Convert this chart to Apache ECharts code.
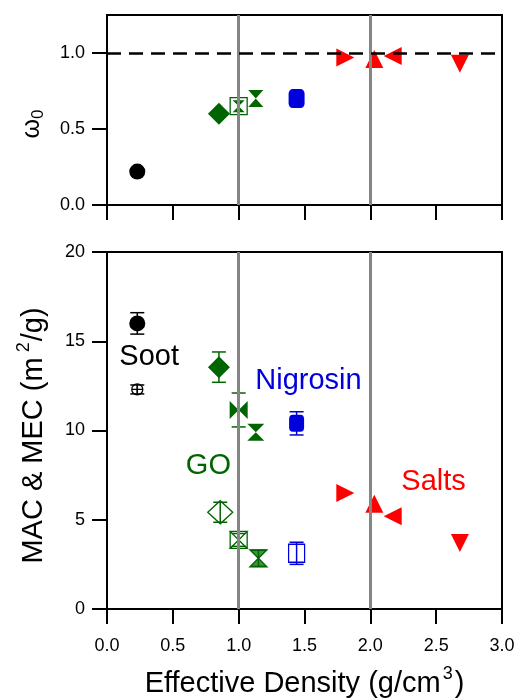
<!DOCTYPE html>
<html>
<head>
<meta charset="utf-8">
<script src="https://cdn.jsdelivr.net/npm/echarts@6/dist/echarts.min.js"></script>
<style>
  html, body { margin: 0; padding: 0; background: #fff; }
  #chart { width: 518px; height: 698px; }
</style>
</head>
<body>
<div id="chart"></div>
<script>
// tick values
const densityTicks = [0, 0.5, 1.0, 1.5, 2.0, 2.5, 3.0];
const ssaTicks = [0, 0.5, 1.0];
const macTicks = [0, 5, 10, 15, 20];

// single scattering albedo (top) and MAC (bottom, filled markers), same points
const density = [0.23, 0.85, 1.0, 1.13, 1.44, 1.81, 2.03, 2.17, 2.68];
const ssa = [0.22, 0.60, 0.65, 0.70, 0.70, 0.97, 0.96, 0.98, 0.93];
const mac = [16.0, 13.55, 11.15, 9.9, 10.4, 6.5, 5.9, 5.2, 3.7];
const macErr = [0.6, 0.85, 0.95, 0, 0.65, 0, 0, 0, 0];

// MEC (bottom, open markers)
const mecDensity = [0.23, 0.86, 1.0, 1.15, 1.44];
const mec = [12.3, 5.42, 3.87, 2.84, 3.12];
const mecErr = [0.25, 0.56, 0.36, 0.45, 0.62];

// group labels
const groupNames = ['Soot', 'Nigrosin', 'GO', 'Salts'];
const groupX = [0.32, 1.53, 0.77, 2.48];
const groupY = [14.1, 12.75, 8.0, 7.1];

const FONT = '"Liberation Sans", Arial, sans-serif';
const BLACK = '#000000', GREEN = '#006400', BLUE = '#0000dd', RED = '#ff0000';
const HOURGLASS = 'path://M0,0L10,0L0,10L10,10Z';
const BOWTIE = 'path://M0,0L0,10L10,0L10,10Z';
const BOXGLASS = 'path://M0,0L10,0L10,10L0,10ZM0,0L10,0L0,10L10,10Z';
const CIRCLEPLUS = 'path://M0,5A5,5,0,1,1,10,5A5,5,0,1,1,0,5ZM0,5L10,5M5,0L5,10';

const groupColors = [BLACK, BLUE, GREEN, RED];
const pointColors = [BLACK, GREEN, GREEN, GREEN, BLUE, RED, RED, RED, RED];

// marker layers for each point
const ssaMarks = [
  [{ s: 'circle', size: 16, fill: BLACK }],
  [{ s: 'diamond', size: 22, fill: GREEN }],
  [{ s: 'rect', size: 17, fill: 'none', stroke: GREEN }, { s: HOURGLASS, size: 12, fill: GREEN }],
  [{ s: HOURGLASS, size: [15, 17], fill: GREEN }],
  [{ s: 'roundRect', size: [16, 19], fill: BLUE }],
  [{ s: 'triangle', size: 18, rot: -90, fill: RED }],
  [{ s: 'triangle', size: 18, fill: RED }],
  [{ s: 'triangle', size: 18, rot: 90, fill: RED }],
  [{ s: 'triangle', size: 18, rot: 180, fill: RED }]
];
const macMarks = [
  [{ s: 'circle', size: 16, fill: BLACK }],
  [{ s: 'diamond', size: 22, fill: GREEN }],
  [{ s: BOWTIE, size: 18, fill: GREEN }],
  [{ s: HOURGLASS, size: 17, fill: GREEN }],
  [{ s: 'roundRect', size: [15, 17], fill: BLUE }],
  [{ s: 'triangle', size: 18, rot: -90, fill: RED }],
  [{ s: 'triangle', size: 18, fill: RED }],
  [{ s: 'triangle', size: 18, rot: 90, fill: RED }],
  [{ s: 'triangle', size: 18, rot: 180, fill: RED }]
];
const mecMarks = [
  [{ s: CIRCLEPLUS, size: 11, fill: 'none', stroke: BLACK }],
  [{ s: 'diamond', size: [25, 23], fill: 'none', stroke: GREEN }],
  [{ s: BOXGLASS, size: 17, fill: 'none', stroke: GREEN }],
  [{ s: HOURGLASS, size: 17, fill: 'rgba(0,110,0,0.75)', stroke: GREEN }],
  [{ s: 'rect', size: [16, 18], fill: 'none', stroke: BLUE }]
];

function markerSeries(xs, ys, marks, gi) {
  const out = [];
  xs.forEach((x, i) => {
    marks[i].forEach(m => {
      out.push({
        type: 'scatter', xAxisIndex: gi, yAxisIndex: gi, z: 3, silent: true,
        symbol: m.s, symbolSize: m.size, symbolRotate: m.rot || 0,
        itemStyle: { color: m.fill, borderColor: m.stroke || m.fill, borderWidth: m.stroke ? 1.3 : 0, opacity: 1 },
        data: [[x, ys[i]]]
      });
    });
  });
  return out;
}

function errorBars(xs, ys, es, colors, gi, z) {
  return {
    type: 'custom', xAxisIndex: gi, yAxisIndex: gi, z: z, silent: true,
    encode: { x: 0, y: 1 },
    data: xs.map((x, i) => [x, ys[i], es[i], i]),
    renderItem: (params, api) => {
      const x = api.value(0), y = api.value(1), e = api.value(2);
      if (!e) return null;
      const top = api.coord([x, y + e]);
      const bot = api.coord([x, y - e]);
      const style = { stroke: colors[api.value(3)], lineWidth: 1.5 };
      const hw = 7;
      return {
        type: 'group',
        children: [
          { type: 'line', shape: { x1: top[0], y1: top[1], x2: bot[0], y2: bot[1] }, style },
          { type: 'line', shape: { x1: top[0] - hw, y1: top[1], x2: top[0] + hw, y2: top[1] }, style },
          { type: 'line', shape: { x1: bot[0] - hw, y1: bot[1], x2: bot[0] + hw, y2: bot[1] }, style }
        ]
      };
    }
  };
}

function refLines(gi, withDash) {
  const data = [{ xAxis: 1, lineStyle: { color: '#858585', width: 3, type: 'solid' } },
                { xAxis: 2, lineStyle: { color: '#858585', width: 3, type: 'solid' } }];
  if (withDash) data.push({ yAxis: 1, lineStyle: { color: '#000', width: 2.5, type: [14, 8] } });
  return {
    type: 'scatter', xAxisIndex: gi, yAxisIndex: gi, z: 1, silent: true, data: [],
    markLine: { silent: true, symbol: 'none', animation: false, label: { show: false }, data }
  };
}

const axisLine = { show: true, onZero: false, lineStyle: { color: '#000', width: 2 } };
const tickStyle = { show: true, inside: false, length: 15, lineStyle: { color: '#000', width: 2 } };
const labelStyle = { color: '#000', fontSize: 18, fontFamily: FONT };

const chart = echarts.init(document.getElementById('chart'));
chart.setOption({
  animation: false,
  backgroundColor: '#fff',
  grid: [
    { left: 107, right: 16, top: 15, height: 190, show: true, borderColor: '#000', borderWidth: 2, outerBoundsMode: 'none', containLabel: false },
    { left: 107, right: 16, top: 252, height: 357, show: true, borderColor: '#000', borderWidth: 2, outerBoundsMode: 'none', containLabel: false }
  ],
  xAxis: [
    {
      gridIndex: 0, type: 'value', min: 0, max: 3, interval: 0.5,
      axisLine, axisTick: { ...tickStyle, customValues: densityTicks },
      axisLabel: { show: false }, splitLine: { show: false }
    },
    {
      gridIndex: 1, type: 'value', min: 0, max: 3, interval: 0.5,
      axisLine, axisTick: { ...tickStyle, customValues: densityTicks },
      axisLabel: { ...labelStyle, margin: 28, customValues: densityTicks, formatter: v => v.toFixed(1) },
      splitLine: { show: false },
      name: '{t|Effective Density (g/cm}{s|3}{t|)}',
      nameLocation: 'middle', nameGap: 56,
      nameTextStyle: {
        rich: {
          t: { fontSize: 29, fontFamily: FONT, color: '#000', lineHeight: 38 },
          s: { fontSize: 18, fontFamily: FONT, color: '#000', lineHeight: 18, verticalAlign: 'top', padding: [0, 2, 0, 2] }
        }
      }
    }
  ],
  yAxis: [
    {
      gridIndex: 0, type: 'value', min: 0, max: 1.25, interval: 0.5,
      axisLine, axisTick: { ...tickStyle, customValues: ssaTicks },
      axisLabel: { ...labelStyle, margin: 22, customValues: ssaTicks, formatter: v => v.toFixed(1) },
      splitLine: { show: false },
      name: '{t|ω}{b|0}',
      nameLocation: 'middle', nameGap: 60,
      nameTextStyle: {
        padding: [0, 28, 0, 0],
        rich: {
          t: { fontSize: 25, fontFamily: FONT, color: '#000', lineHeight: 30 },
          b: { fontSize: 17, fontFamily: FONT, color: '#000', lineHeight: 17, verticalAlign: 'bottom' }
        }
      }
    },
    {
      gridIndex: 1, type: 'value', min: 0, max: 20, interval: 5,
      axisLine, axisTick: { ...tickStyle, customValues: macTicks },
      axisLabel: { ...labelStyle, margin: 22, customValues: macTicks },
      splitLine: { show: false },
      name: '{t|MAC & MEC (m}{s|2}{t|/g)}',
      nameLocation: 'middle', nameGap: 54,
      nameTextStyle: {
        padding: [0, 10, 0, 0],
        rich: {
          t: { fontSize: 29, fontFamily: FONT, color: '#000', lineHeight: 38 },
          s: { fontSize: 18, fontFamily: FONT, color: '#000', lineHeight: 18, verticalAlign: 'top', padding: [0, 1, 0, 5] }
        }
      }
    }
  ],
  series: [
    refLines(0, true),
    refLines(1, false),
    ...markerSeries(density, ssa, ssaMarks, 0),
    errorBars(density, mac, macErr, pointColors, 1, 2),
    ...markerSeries(density, mac, macMarks, 1),
    ...markerSeries(mecDensity, mec, mecMarks, 1),
    errorBars(mecDensity, mec, mecErr, pointColors, 1, 4),
    {
      type: 'scatter', xAxisIndex: 1, yAxisIndex: 1, z: 5, silent: true,
      symbolSize: 1, itemStyle: { color: 'transparent', opacity: 1 },
      data: groupNames.map((n, i) => ({
        name: n, value: [groupX[i], groupY[i]],
        label: { color: groupColors[i] }
      })),
      label: { show: true, position: 'inside', formatter: '{b}', fontSize: 29, fontFamily: FONT, opacity: 1 }
    }
  ]
});
</script>
</body>
</html>
